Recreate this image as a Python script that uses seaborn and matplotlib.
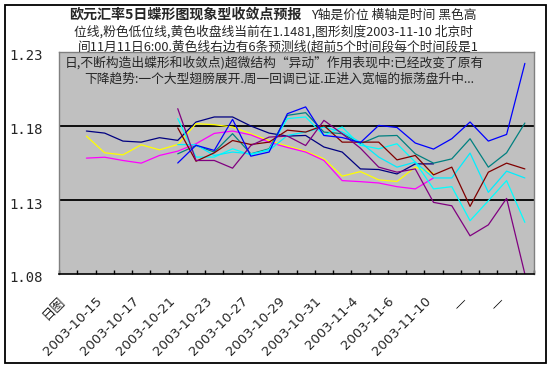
import numpy as np
import pandas as pd
import matplotlib
matplotlib.use("Agg")
import matplotlib.pyplot as plt
import seaborn as sns
from matplotlib.patches import Rectangle
from matplotlib.transforms import ScaledTranslation

# ---------------- data ----------------
tick_labels = ['日图', '2003-10-15', '2003-10-17', '2003-10-21', '2003-10-23',
               '2003-10-27', '2003-10-29', '2003-10-31', '2003-11-4',
               '2003-11-6', '2003-11-10', '—', '—']

hist_start = 1   # first category slot of the historical lines
high = [1.1766, 1.1752, 1.1698, 1.1691, 1.1721, 1.1703, 1.1827, 1.1861, 1.1861, 1.1800,
        1.1752, 1.1732, 1.1736, 1.1658, 1.1624, 1.1510, 1.1506, 1.1476, 1.1544, 1.1544]
close = [1.1732, 1.1619, 1.1605, 1.1673, 1.1639, 1.1675, 1.1816, 1.1809, 1.1793, 1.1748,
         1.1702, 1.1664, 1.1630, 1.1578, 1.1461, 1.1492, 1.1436, 1.1425, 1.1522, 1.1481]
low = [1.1583, 1.1589, 1.1567, 1.1549, 1.1601, 1.1630, 1.1680, 1.1750, 1.1766, 1.1740,
       1.1690, 1.1655, 1.1624, 1.1567, 1.1431, 1.1424, 1.1415, 1.1390, 1.1375, 1.1449]

pred_start = 6   # first category slot of the forecast lines
pred_blue = [1.1550, 1.1670, 1.1635, 1.1845, 1.1596, 1.1624, 1.1883, 1.1929, 1.1736, 1.1722,
             1.1688, 1.1804, 1.1790, 1.1685, 1.1644, 1.1714, 1.1827, 1.1698, 1.1743, 1.2223]
pred_teal = [1.1612, 1.1668, 1.1624, 1.1748, 1.1612, 1.1646, 1.1872, 1.1890, 1.1759, 1.1748,
             1.1680, 1.1732, 1.1736, 1.1612, 1.1549, 1.1578, 1.1714, 1.1522, 1.1619, 1.1820]
pred_maroon = [1.1787, 1.1562, 1.1619, 1.1702, 1.1675, 1.1691, 1.1772, 1.1759, 1.1804, 1.1691,
               1.1691, 1.1691, 1.1571, 1.1601, 1.1470, 1.1522, 1.1257, 1.1488, 1.1549, 1.1510]
pred_purple = [1.1917, 1.1567, 1.1567, 1.1515, 1.1668, 1.1725, 1.1732, 1.1668, 1.1838, 1.1748,
               1.1650, 1.1522, 1.1488, 1.1510, 1.1284, 1.1261, 1.1058, 1.1132, 1.1311, 1.0800]
pred_cyan_a = [1.1850, 1.1590, 1.1590, 1.1646, 1.1605, 1.1641, 1.1850, 1.1861, 1.1736, 1.1793,
               1.1670, 1.1646, 1.1680, 1.1556, 1.1375, 1.1390, 1.1160, 1.1295, 1.1431, 1.1149]
pred_cyan_b = [1.1675, 1.1673, 1.1601, 1.1624, 1.1612, 1.1635, 1.1736, 1.1759, 1.1793, 1.1759,
               1.1690, 1.1590, 1.1522, 1.1556, 1.1449, 1.1449, 1.1617, 1.1352, 1.1495, 1.1449]

series = [
    ('high', hist_start, high, '#000080'),
    ('close', hist_start, close, '#FFFF00'),
    ('low', hist_start, low, '#FF00FF'),
    ('p_teal', pred_start, pred_teal, '#008080'),
    ('p_cyan_a', pred_start, pred_cyan_a, '#00FFFF'),
    ('p_cyan_b', pred_start, pred_cyan_b, '#00EEFF'),
    ('p_maroon', pred_start, pred_maroon, '#800000'),
    ('p_purple', pred_start, pred_purple, '#800080'),
    ('p_blue', pred_start, pred_blue, '#0000FF'),
]

rows = []
for name, start, vals, _c in series:
    for k, v in enumerate(vals):
        rows.append({'series': name, 'slot': start + k + 0.5, 'price': v})
df = pd.DataFrame(rows)
palette = {name: c for name, _s, _v, c in series}
order = [name for name, _s, _v, _c in series]

# ---------------- figure ----------------
sns.set_theme(style='white')
plt.rcParams['font.family'] = ['DejaVu Sans', 'Noto Sans CJK SC']

W, H = 552, 366
fig = plt.figure(figsize=(W / 100, H / 100), dpi=100)
fig.patch.set_facecolor('white')

L, R, T, B = 59, 534, 52, 274
ax = fig.add_axes([L / W, 1 - B / H, (R - L) / W, (B - T) / H])
ax.set_facecolor('#C0C0C0')

for yv in [1.18, 1.13]:
    ax.axhline(yv, color='black', lw=1.3, zorder=1)

sns.lineplot(data=df, x='slot', y='price', hue='series', hue_order=order,
             palette=palette, estimator=None, sort=False, linewidth=0.9,
             legend=False, ax=ax, zorder=2)

n_slots = 26
ax.set_xlim(0, n_slots)
ax.set_ylim(1.08, 1.23)
ax.set_xlabel('')
ax.set_ylabel('')

ticks = np.arange(n_slots + 1)
labs = []
for t in ticks:
    if t % 2 == 0 and t // 2 < len(tick_labels):
        labs.append(tick_labels[t // 2])
    else:
        labs.append('')
ax.set_xticks(ticks)
ax.set_xticklabels(labs, rotation=45, ha='right', va='top', rotation_mode='anchor',
                   fontsize=9.5, family=['DejaVu Sans', 'Noto Sans CJK SC'])
ax.tick_params(axis='x', direction='in', length=3, width=1, color='black',
               pad=15, bottom=True)

yt = [1.08, 1.13, 1.18, 1.23]
ax.set_yticks(yt)
ax.set_yticklabels([f'{v:.2f}' for v in yt], fontsize=10, family='DejaVu Sans Mono')
ax.tick_params(axis='y', length=0, pad=12)
for lbl in ax.get_yticklabels():
    lbl.set_transform(lbl.get_transform() + ScaledTranslation(0, -0.03, fig.dpi_scale_trans))

for s in ['top', 'right', 'left']:
    ax.spines[s].set_color('#808080')
    ax.spines[s].set_linewidth(1)
ax.spines['bottom'].set_color('black')
ax.spines['bottom'].set_linewidth(1.2)

# outer frame
fig.add_artist(Rectangle((5 / W, 1 - 363 / H), (546 - 5) / W, (363 - 5) / H,
                         transform=fig.transFigure, fill=False, ec='black', lw=1.3))

# ---------------- title text ----------------
cjk = ['Noto Sans CJK SC', 'DejaVu Sans']
fs = 9.2
fig.text(302 / W, 1 - 15 / H, '欧元汇率5日蝶形图现象型收敛点预报', ha='right', va='center',
         fontsize=10.1, fontweight='bold', family=cjk)
fig.text(311 / W, 1 - 15 / H, 'Y轴是价位 横轴是时间 黑色高', ha='left', va='center',
         fontsize=fs, family=cjk)
lines = [
    (274, 31.5, '位线,粉色低位线,黄色收盘线当前在1.1481,图形刻度2003-11-10 北京时'),
    (278, 47, '间11月11日6:00.黄色线右边有6条预测线(超前5个时间段每个时间段是1'),
    (274, 63, '日,不断构造出蝶形和收敛点)超微结构“异动”作用表现中:已经改变了原有'),
    (279, 79, '下降趋势:一个大型翅膀展开.周一回调已证.正进入宽幅的振荡盘升中...'),
]
for xc, yc, txt in lines:
    fig.text(xc / W, 1 - yc / H, txt, ha='center', va='center', fontsize=fs, family=cjk)

fig.savefig('out.png', dpi=100, facecolor='white')
